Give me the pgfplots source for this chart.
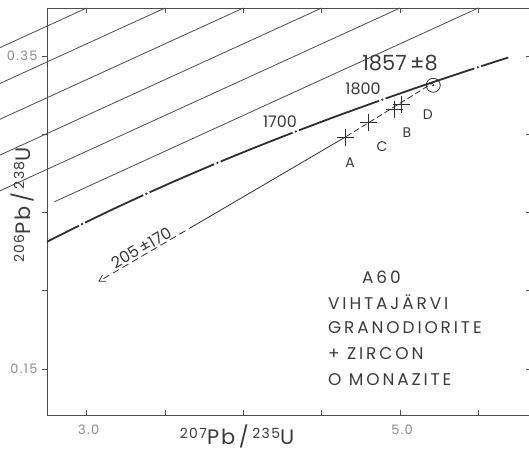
\documentclass[border=0pt]{standalone}
\usepackage{pgfplots}
\pgfplotsset{compat=1.18}
\usetikzlibrary{arrows.meta}
\usepackage{fontspec}
\setmainfont{Poppins}
\newfontfamily\lab[LetterSpace=17]{Poppins}
\newfontfamily\num[LetterSpace=10]{Poppins}

\definecolor{ink}{HTML}{2E2E2E}
\definecolor{txt}{HTML}{3A3A3A}
\definecolor{tkl}{HTML}{8A8A8A}

% Concordia ages (Ma) -> 207Pb/235U, 206Pb/238U
\pgfplotsset{
  conc/.style={ink, line width=1.8bp, smooth},
  frame/.style={
    scale only axis, width=484bp, height=407bp,
    xmin=2.7466, xmax=5.8359, ymin=0.12061, ymax=0.38067,
    axis line style={draw=black!70, line width=0.9bp},
    tick style={draw=black!70, line width=0.8bp},
    major tick length=5bp,
  },
}

\begin{document}
\begin{tikzpicture}
% right-hand y ticks, pointing inwards
\begin{axis}[frame, hide x axis, axis y line*=right, tick align=inside,
  ytick={0.15,0.2,0.25,0.3,0.35}, yticklabels={}]
\end{axis}
\begin{axis}[
  name=ax, frame,
  clip mode=individual,
  tick align=inside,
  xtick={3,3.5,4,4.5,5,5.5},
  xticklabels={3.0,,,,5.0,},
  ytick=\empty,
  extra y ticks={0.15,0.2,0.25,0.3,0.35},
  extra y tick labels={0.15,,,,0.35},
  extra y tick style={tick align=outside},
  ticklabel style={font=\num\fontsize{13}{13}\selectfont, text=tkl},
  xticklabel style={yshift=-6bp, xshift=2bp},
  yticklabel style={xshift=-1bp},
]
% top frame ticks, pointing inwards
\pgfplotsinvokeforeach{3,3.5,4,4.5,5,5.5}{
  \draw[black!70, line width=0.8bp] (axis cs:#1,0.38067) -- ++(0,-5bp);
}

% concordia, broken at every 100 Ma
\addplot[conc, shorten >=3.5bp] coordinates {(2.70562,0.22914)(2.77933,0.23296)(2.97009,0.24256)};
\addplot[conc, shorten <=3.5bp, shorten >=3.5bp] coordinates {(2.97009,0.24256)(3.17049,0.25224)(3.38099,0.26199)};
\addplot[conc, shorten <=3.5bp, shorten >=3.5bp] coordinates {(3.38099,0.26199)(3.60212,0.27181)(3.83441,0.28172)};
\addplot[conc, shorten <=3.5bp, shorten >=3.5bp] coordinates {(3.83441,0.28172)(4.07843,0.29170)(4.33477,0.30176)};
\addplot[conc, shorten <=3.5bp, shorten >=3.5bp] coordinates {(4.33477,0.30176)(4.60404,0.31189)(4.88690,0.32211)};
\addplot[conc, shorten <=3.5bp, shorten >=3.5bp] coordinates {(4.88690,0.32211)(5.18405,0.33240)(5.49619,0.34278)};
\addplot[conc, shorten <=3.5bp] coordinates {(5.49619,0.34278)(5.69098,0.34904)};
\addplot[only marks, mark=*, mark size=0.9bp, ink] coordinates {(2.97009,0.24256)(3.38099,0.26199)(3.83441,0.28172)(4.33477,0.30176)(4.88690,0.32211)(5.49619,0.34278)};

% discordia
\addplot[ink, line width=0.8bp, dash pattern=on 6bp off 3bp] coordinates {(5.2268,0.33385)(4.649,0.2981)};
\addplot[ink, line width=0.8bp] coordinates {(4.649,0.2981)(3.691,0.2419)};
\addplot[ink, line width=0.8bp, dash pattern=on 7bp off 4bp, -{Straight Barb[length=6bp,width=7bp]}] coordinates {(3.691,0.2419)(3.074,0.2058)};

% zircon fractions A, C, B, D
\addplot[only marks, mark=+, mark size=8.5bp, mark options={ink, line width=0.8bp}] coordinates {(4.649,0.2981)(4.797,0.3076)(4.962,0.3159)(5.0105,0.3193)};
% monazite
\addplot[only marks, mark=o, mark size=7bp, mark options={ink, line width=0.8bp, fill=white}] coordinates {(5.212,0.3313)};
\addplot[only marks, mark=*, mark size=0.8bp, ink] coordinates {(5.212,0.3313)};

% labels
\node[txt, font=\fontsize{21}{21}\selectfont] at (axis cs:5.000,0.3455) {1857\,±8};
\node[txt, font=\fontsize{16}{16}\selectfont] at (axis cs:4.764,0.3289) {1800};
\node[txt, font=\fontsize{16}{16}\selectfont] at (axis cs:4.234,0.3078) {1700};
\node[txt, font=\fontsize{14}{14}\selectfont] at (axis cs:4.681,0.2816) {A};
\node[txt, font=\fontsize{14}{14}\selectfont] at (axis cs:4.885,0.2919) {C};
\node[txt, font=\fontsize{14}{14}\selectfont] at (axis cs:5.044,0.3008) {B};
\node[txt, font=\fontsize{14}{14}\selectfont] at (axis cs:5.178,0.3123) {D};
\node[txt, font=\fontsize{16}{16}\selectfont, rotate=30.3, anchor=south, inner sep=1.5bp] at (axis cs:3.3725,0.2233) {205\,±170};

\node[txt, anchor=west, inner sep=0pt, font=\lab\fontsize{17}{17}\selectfont] at (axis cs:4.757,0.2088) {A60};
\node[txt, anchor=west, inner sep=0pt, font=\lab\fontsize{17}{17}\selectfont] at (axis cs:4.540,0.1928) {VIHTAJÄRVI};
\node[txt, anchor=west, inner sep=0pt, font=\lab\fontsize{17}{17}\selectfont] at (axis cs:4.540,0.1762) {GRANODIORITE};
\node[txt, anchor=west, inner sep=0pt, font=\lab\fontsize{17}{17}\selectfont] at (axis cs:4.540,0.1596) {+ ZIRCON};
\node[txt, anchor=west, inner sep=0pt, font=\lab\fontsize{17}{17}\selectfont] at (axis cs:4.540,0.1430) {O MONAZITE};

% axis titles
\node[txt, font=\num\fontsize{21}{21}\selectfont] at ([yshift=-21bp]rel axis cs:0.3926,0)
  {\raisebox{6bp}{\fontsize{14}{14}\selectfont 207}Pb\,/\,\raisebox{6bp}{\fontsize{14}{14}\selectfont 235}U};
\node[txt, font=\num\fontsize{21}{21}\selectfont, rotate=90] at ([xshift=-25bp]rel axis cs:0,0.516)
  {\raisebox{6bp}{\fontsize{14}{14}\selectfont 206}Pb\,/\,\raisebox{6bp}{\fontsize{14}{14}\selectfont 238}U};
\end{axis}
\pgfresetboundingbox
\useasboundingbox ([xshift=-47bp,yshift=-36bp]ax.south west) rectangle ([xshift=482bp,yshift=8bp]ax.north west);
\end{tikzpicture}
\end{document}
